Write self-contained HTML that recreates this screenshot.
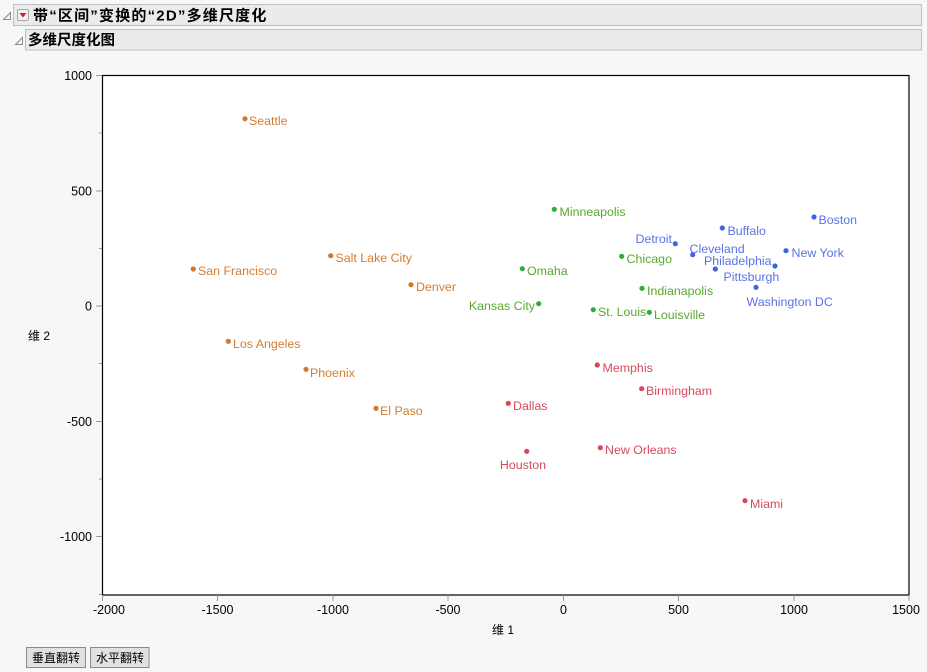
<!DOCTYPE html>
<html>
<head>
<meta charset="utf-8">
<style>
  html,body{margin:0;padding:0;background:#f7f7f7;}
  body{width:927px;height:672px;overflow:hidden;}
  svg{display:block;}
  text{font-family:"Liberation Sans","Noto Sans CJK SC",sans-serif;}
</style>
</head>
<body>
<svg width="927" height="672" viewBox="0 0 927 672" xmlns="http://www.w3.org/2000/svg">
  <rect x="0" y="0" width="927" height="672" fill="#f7f7f7"/>

  <!-- Header 1 -->
  <polygon points="3.5,19.5 10.5,12.5 10.5,19.5" fill="none" stroke="#8a8a8a" stroke-width="1"/>
  <rect x="13.5" y="4.5" width="908" height="21" fill="#ebebeb" stroke="#bfbfbf"/>
  <rect x="17.5" y="9.5" width="11" height="11" rx="1.5" fill="#f1f1f1" stroke="#a8a8a8"/>
  <polygon points="19.5,13 26.5,13 23,17.5" fill="#d0202a"/>
  <text x="33" y="20.5" font-size="15" font-weight="bold" fill="#000" letter-spacing="1.2">带“区间”变换的“2D”多维尺度化</text>

  <!-- Header 2 -->
  <polygon points="15.5,44.5 22.5,37.5 22.5,44.5" fill="none" stroke="#8a8a8a" stroke-width="1"/>
  <rect x="25.5" y="29.5" width="896" height="20.5" fill="#ebebeb" stroke="#bfbfbf"/>
  <text x="28" y="45" font-size="14.5" font-weight="bold" fill="#000">多维尺度化图</text>

  <!-- Plot frame -->
  <rect x="102.5" y="75.5" width="806.5" height="519.5" fill="#ffffff" stroke="#000" stroke-width="1.2"/>

  <!-- Y ticks -->
  <g stroke="#999" stroke-width="1">
    <line x1="96" y1="75.5" x2="102" y2="75.5"/>
    <line x1="99" y1="133" x2="102" y2="133"/>
    <line x1="96" y1="191" x2="102" y2="191"/>
    <line x1="99" y1="248.5" x2="102" y2="248.5"/>
    <line x1="96" y1="306" x2="102" y2="306"/>
    <line x1="99" y1="363.5" x2="102" y2="363.5"/>
    <line x1="96" y1="421.5" x2="102" y2="421.5"/>
    <line x1="99" y1="479" x2="102" y2="479"/>
    <line x1="96" y1="536.5" x2="102" y2="536.5"/>
    <line x1="99" y1="594.5" x2="102" y2="594.5"/>
  </g>
  <g font-size="12.5" fill="#000" text-anchor="end">
    <text x="92" y="80">1000</text>
    <text x="92" y="195.5">500</text>
    <text x="92" y="310.5">0</text>
    <text x="92" y="426">-500</text>
    <text x="92" y="541">-1000</text>
  </g>

  <!-- X ticks -->
  <g stroke="#999" stroke-width="1">
    <line x1="102.5" y1="595" x2="102.5" y2="601"/>
    <line x1="217.5" y1="595" x2="217.5" y2="601"/>
    <line x1="333" y1="595" x2="333" y2="601"/>
    <line x1="448" y1="595" x2="448" y2="601"/>
    <line x1="563.5" y1="595" x2="563.5" y2="601"/>
    <line x1="678.5" y1="595" x2="678.5" y2="601"/>
    <line x1="794" y1="595" x2="794" y2="601"/>
    <line x1="909" y1="595" x2="909" y2="601"/>
  </g>
  <g font-size="12.5" fill="#000" text-anchor="middle">
    <text x="109" y="614">-2000</text>
    <text x="217.5" y="614">-1500</text>
    <text x="333" y="614">-1000</text>
    <text x="448" y="614">-500</text>
    <text x="563.5" y="614">0</text>
    <text x="678.5" y="614">500</text>
    <text x="794" y="614">1000</text>
    <text x="906" y="614">1500</text>
  </g>

  <!-- Axis titles -->
  <text x="503" y="634" font-size="12" fill="#000" text-anchor="middle">维 1</text>
  <text x="28" y="340" font-size="12" fill="#000">维 2</text>

  <!-- Orange series -->
  <g fill="#cf7a2e">
    <circle cx="245" cy="118.7" r="2.6"/>
    <circle cx="193.3" cy="269" r="2.6"/>
    <circle cx="330.7" cy="255.7" r="2.6"/>
    <circle cx="411" cy="284.7" r="2.6"/>
    <circle cx="228.3" cy="341.3" r="2.6"/>
    <circle cx="306" cy="369.3" r="2.6"/>
    <circle cx="376" cy="408.3" r="2.6"/>
  </g>
  <g font-size="12.4" fill="#d27e32">
    <text x="249" y="125">Seattle</text>
    <text x="198" y="275">San Francisco</text>
    <text x="335.5" y="262">Salt Lake City</text>
    <text x="416" y="291">Denver</text>
    <text x="233" y="348">Los Angeles</text>
    <text x="310" y="377">Phoenix</text>
    <text x="380" y="415">El Paso</text>
  </g>

  <!-- Green series -->
  <g fill="#35a83c">
    <circle cx="554.3" cy="209.3" r="2.6"/>
    <circle cx="522.3" cy="268.7" r="2.6"/>
    <circle cx="621.7" cy="256.3" r="2.6"/>
    <circle cx="538.7" cy="303.7" r="2.6"/>
    <circle cx="642" cy="288.3" r="2.6"/>
    <circle cx="593.3" cy="309.7" r="2.6"/>
    <circle cx="649.3" cy="312.3" r="2.6"/>
  </g>
  <g font-size="12.4" fill="#5aa92e">
    <text x="559.5" y="216">Minneapolis</text>
    <text x="527" y="275">Omaha</text>
    <text x="626.5" y="263">Chicago</text>
    <text x="535" y="310" text-anchor="end">Kansas City</text>
    <text x="647" y="295">Indianapolis</text>
    <text x="598" y="316">St. Louis</text>
    <text x="654" y="319">Louisville</text>
  </g>

  <!-- Blue series -->
  <g fill="#3c66df">
    <circle cx="814" cy="217" r="2.6"/>
    <circle cx="722.3" cy="228" r="2.6"/>
    <circle cx="675.3" cy="243.7" r="2.6"/>
    <circle cx="692.7" cy="254.7" r="2.6"/>
    <circle cx="786" cy="250.7" r="2.6"/>
    <circle cx="775" cy="266" r="2.6"/>
    <circle cx="715.3" cy="269" r="2.6"/>
    <circle cx="756" cy="287.3" r="2.6"/>
  </g>
  <g font-size="12.4" fill="#5a72e6">
    <text x="818.5" y="224">Boston</text>
    <text x="727.5" y="235">Buffalo</text>
    <text x="672" y="243" text-anchor="end">Detroit</text>
    <text x="689.5" y="253">Cleveland</text>
    <text x="791.5" y="257">New York</text>
    <text x="771.5" y="265" text-anchor="end">Philadelphia</text>
    <text x="723.5" y="281">Pittsburgh</text>
    <text x="746.5" y="306">Washington DC</text>
  </g>

  <!-- Red series -->
  <g fill="#d8465a">
    <circle cx="597.3" cy="365" r="2.6"/>
    <circle cx="641.7" cy="388.7" r="2.6"/>
    <circle cx="508.3" cy="403.3" r="2.6"/>
    <circle cx="526.7" cy="451.3" r="2.6"/>
    <circle cx="600.3" cy="447.7" r="2.6"/>
    <circle cx="745" cy="500.7" r="2.6"/>
  </g>
  <g font-size="12.4" fill="#d84a5e">
    <text x="602.5" y="372">Memphis</text>
    <text x="646" y="395">Birmingham</text>
    <text x="513" y="410">Dallas</text>
    <text x="523" y="469" text-anchor="middle">Houston</text>
    <text x="605" y="454">New Orleans</text>
    <text x="750" y="508">Miami</text>
  </g>

  <!-- Buttons -->
  <rect x="26.5" y="647.5" width="59" height="20" fill="#e1e1e1" stroke="#8a8a8a"/>
  <text x="56" y="662" font-size="12" fill="#000" text-anchor="middle">垂直翻转</text>
  <rect x="90.5" y="647.5" width="58.5" height="20" fill="#e1e1e1" stroke="#8a8a8a"/>
  <text x="120" y="662" font-size="12" fill="#000" text-anchor="middle">水平翻转</text>
</svg>
</body>
</html>
